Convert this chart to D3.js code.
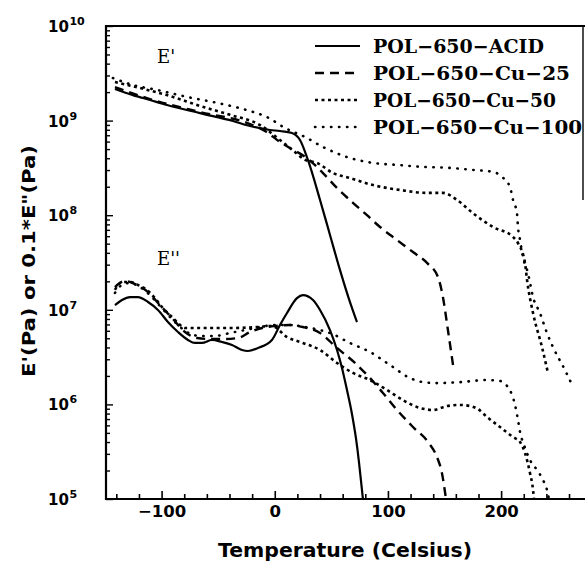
<!DOCTYPE html>
<html><head><meta charset="utf-8">
<script src="https://cdn.jsdelivr.net/npm/d3@7"></script>
<style>body{margin:0;background:#fff;} svg{display:block;}</style>
</head><body>
<svg id="chart" width="585" height="563"></svg>
<script>
// ---------- data (temperature in °C, modulus in Pa) ----------
const seriesNames = ["POL−650−ACID", "POL−650−Cu−25", "POL−650−Cu−50", "POL−650−Cu−100"];

// storage modulus E'
const acidStorage = [[-141.2,2.16e9],[-125.3,1.86e9],[-110.3,1.65e9],[-95.2,1.46e9],[-66.1,1.20e9],[-36.9,9.9e8],[-21.9,8.77e8],[-4.2,7.96e8],[4.6,7.77e8],[15.2,7.40e8],[22.3,6.24e8],[29.3,3.84e8],[40.0,1.45e8],[48.8,6.18e7],[57.6,2.64e7],[66.4,1.21e7],[72.6,7.43e6]];
const cu25Storage = [[-141.2,2.26e9],[-110.3,1.69e9],[-66.1,1.23e9],[-21.9,9.2e8],[-8.7,7.77e8],[4.6,5.94e8],[13.4,5.13e8],[28.2,4.03e8],[42.6,2.79e8],[55.0,1.94e8],[69.1,1.35e8],[81.5,1.0e8],[93.0,7.5e7],[108.0,5.47e7],[122.1,4.08e7],[134.5,3.13e7],[144.2,2.22e7],[148.6,1.36e7],[153.0,6.11e6],[157.5,2.61e6]];
const cu50Storage = [[-141.2,2.56e9],[-119.1,2.21e9],[-95.2,1.86e9],[-66.1,1.43e9],[-39.6,1.15e9],[-13.1,8.98e8],[4.6,6.24e8],[17.8,4.66e8],[26.7,3.84e8],[37.3,3.57e8],[51.4,2.79e8],[66.4,2.47e8],[86.8,2.08e8],[110.6,1.85e8],[134.5,1.72e8],[148.6,1.72e8],[161.0,1.45e8],[175.1,1.05e8],[192.8,7.5e7],[210.5,5.89e7],[214.9,5.08e7],[221.1,3.13e7],[222.9,2.07e7],[228.2,9.25e6],[236.1,4.04e6],[241.4,2.15e6]];
const cu100Storage = [[-143.0,2.82e9],[-125.3,2.38e9],[-104.1,2.11e9],[-77.6,1.78e9],[-51.1,1.54e9],[-24.6,1.29e9],[-6.9,1.09e9],[9.0,8.36e8],[26.7,6.71e8],[42.6,5.26e8],[63.8,4.12e8],[86.8,3.57e8],[108.0,3.40e8],[130.9,3.24e8],[154.8,3.16e8],[175.1,3.01e8],[192.8,2.87e8],[200.8,2.54e8],[207.8,1.99e8],[210.5,1.45e8],[214.0,1.05e8],[214.9,7.5e7],[216.7,5.47e7],[219.3,3.61e7],[223.7,2.45e7],[228.2,1.36e7],[234.3,9.25e6],[240.5,5.69e6],[245.8,4.04e6],[256.4,2.31e6],[263.5,1.53e6]];

// loss modulus, plotted as 0.1*E''
const acidLoss = [[-141.2,1.12e7],[-135.0,1.27e7],[-127.9,1.36e7],[-120.9,1.36e7],[-112.0,1.21e7],[-103.2,9.96e6],[-94.4,7.43e6],[-85.5,5.82e6],[-76.7,4.80e6],[-70.5,4.46e6],[-64.3,4.46e6],[-55.5,4.80e6],[-46.7,4.57e6],[-37.8,4.25e6],[-29.0,3.76e6],[-23.7,3.67e6],[-14.8,3.95e6],[-2.5,4.80e6],[4.6,6.90e6],[10.8,9.25e6],[19.6,1.33e7],[24.9,1.43e7],[33.8,1.27e7],[40.0,9.96e6],[48.8,6.11e6],[55.0,3.76e6],[59.4,2.43e6],[63.8,1.42e6],[68.2,7.93e5],[71.7,4.42e5],[74.4,2.46e5],[76.1,1.59e5],[77.9,1e5]];
const cu25Loss = [[-141.2,1.74e7],[-132.4,2.02e7],[-123.5,1.87e7],[-112.0,1.54e7],[-101.4,1.12e7],[-90.8,8.19e6],[-79.3,5.82e6],[-68.7,5.03e6],[-57.3,4.91e6],[-44.0,4.91e6],[-32.5,5.03e6],[-21.9,5.82e6],[-11.3,6.42e6],[0.2,6.74e6],[13.4,6.90e6],[24.9,6.58e6],[40.0,5.69e6],[55.0,3.95e6],[70.9,2.74e6],[84.1,1.90e6],[95.6,1.32e6],[108.0,8.73e5],[122.1,5.77e5],[135.4,4.01e5],[143.3,2.78e5],[147.7,1.88e5],[151.3,1e5]];
const cu50Loss = [[-141.2,1.62e7],[-138.5,1.83e7],[-134.1,1.97e7],[-127.9,1.97e7],[-120.9,1.83e7],[-112.9,1.62e7],[-105.9,1.33e7],[-98.8,1.04e7],[-90.8,8.39e6],[-85.5,7.25e6],[-79.3,6.42e6],[-61.7,6.42e6],[-37.8,6.42e6],[-14.8,6.58e6],[-2.5,6.74e6],[10.8,5.15e6],[24.9,4.46e6],[40.0,3.76e6],[55.0,2.74e6],[69.1,2.15e6],[84.1,1.81e6],[99.1,1.42e6],[113.3,1.11e6],[125.6,9.40e5],[139.8,8.73e5],[152.2,9.62e5],[163.6,9.86e5],[172.5,9.62e5],[179.5,8.94e5],[187.5,7.36e5],[199.0,5.77e5],[210.5,4.52e5],[216.7,4.01e5],[221.1,3.06e5],[225.5,1.88e5],[228.2,1.25e5],[229.0,1e5]];
const cu100Loss = [[-141.2,1.51e7],[-135.0,1.83e7],[-127.9,1.92e7],[-119.1,1.74e7],[-110.3,1.43e7],[-99.7,1.04e7],[-88.2,7.43e6],[-77.6,5.82e6],[-66.1,5.29e6],[-52.8,5.29e6],[-39.6,5.69e6],[-26.3,6.11e6],[-13.1,6.58e6],[0.2,6.90e6],[13.4,6.90e6],[26.7,6.58e6],[40.0,6.11e6],[48.8,5.69e6],[66.4,4.46e6],[84.1,3.58e6],[101.8,2.61e6],[119.5,1.90e6],[130.9,1.72e6],[143.3,1.68e6],[163.6,1.72e6],[187.5,1.81e6],[199.0,1.77e6],[205.2,1.57e6],[209.6,1.26e6],[212.3,9.86e5],[214.9,6.84e5],[216.7,5.11e5],[220.2,3.73e5],[225.5,2.58e5],[231.7,2.03e5],[237.0,1.59e5],[240.5,1.25e5],[242.3,1e5]];

// ticks and labels
const xMajorTicks = [-100, 0, 100, 200];
const xMinorTicks = [-140, -120, -80, -60, -40, -20, 20, 40, 60, 80, 120, 140, 160, 180, 220, 240, 260];
const yDecades = [1e5, 1e6, 1e7, 1e8, 1e9, 1e10];
const yExponents = ["5", "6", "7", "8", "9", "10"];
const xTitle = "Temperature (Celsius)";
const yTitle = "E'(Pa) or 0.1*E\"(Pa)";
const storageLabel = "E'";
const lossLabel = "E''";

// ---------- drawing ----------
const styles = [
  {dash: null, width: 2.2, cap: "butt"},
  {dash: "9,6", width: 2.4, cap: "butt"},
  {dash: "3,3.5", width: 2.6, cap: "butt"},
  {dash: "0.4,7.6", width: 2.6, cap: "round"}
];
const storage = [acidStorage, cu25Storage, cu50Storage, cu100Storage];
const loss = [acidLoss, cu25Loss, cu50Loss, cu100Loss];

const svg = d3.select("#chart");
const pLeft = 106, pRight = 585, pTop = 26, pBottom = 499;
const x = d3.scaleLinear().domain([-150, 275]).range([105, 586]);
const y = d3.scaleLog().domain([1e5, 1e10]).range([pBottom, pTop]);

svg.append("rect").attr("width", 585).attr("height", 563).attr("fill", "#fff");
svg.append("defs").append("clipPath").attr("id", "clip")
  .append("rect").attr("x", pLeft).attr("y", pTop).attr("width", pRight - pLeft).attr("height", pBottom - pTop);

const tickFont = "'DejaVu Sans', sans-serif";

// x axis ticks
const gxMinor = svg.append("g").attr("transform", `translate(0,${pBottom})`)
  .call(d3.axisBottom(x).tickValues(xMinorTicks).tickSize(-5).tickFormat(""));
const gxMajor = svg.append("g").attr("transform", `translate(0,${pBottom})`)
  .call(d3.axisBottom(x).tickValues(xMajorTicks).tickSize(-8).tickPadding(7));
[gxMinor, gxMajor].forEach(g => {
  g.select(".domain").remove();
  g.selectAll(".tick line").attr("stroke", "#000").attr("stroke-width", 1.6);
});
gxMajor.selectAll(".tick text")
  .attr("fill", "#000").attr("font-family", tickFont).attr("font-weight", "bold")
  .attr("font-size", 16.5).attr("y", 18).attr("dy", null);

// y axis ticks
const yMinorVals = [];
yDecades.slice(0, -1).forEach(d => { for (let k = 2; k <= 9; k++) yMinorVals.push(k * d); });
const gyMinor = svg.append("g").attr("transform", `translate(${pLeft},0)`)
  .call(d3.axisLeft(y).tickValues(yMinorVals).tickSize(-4).tickFormat(""));
const gyMajor = svg.append("g").attr("transform", `translate(${pLeft},0)`)
  .call(d3.axisLeft(y).tickValues(yDecades).tickSize(-7).tickFormat(""));
[gyMinor, gyMajor].forEach(g => {
  g.select(".domain").remove();
  g.selectAll(".tick line").attr("stroke", "#000").attr("stroke-width", 1.4);
});

// y tick labels 10^n
const ylab = svg.append("g").selectAll("text").data(yDecades).join("text")
  .attr("x", 48).attr("y", d => y(d) + 6)
  .attr("font-family", tickFont).attr("font-weight", "bold").attr("font-size", 15).attr("fill", "#000");
ylab.append("tspan").text("10");
ylab.append("tspan").attr("dy", -7).attr("dx", 0.5).attr("font-size", 11).text((d, i) => yExponents[i]);

// frame
svg.append("line").attr("x1", pLeft).attr("x2", pLeft).attr("y1", pTop - 1).attr("y2", pBottom + 1)
  .attr("stroke", "#000").attr("stroke-width", 2.2);
svg.append("line").attr("x1", pLeft - 1).attr("x2", pRight).attr("y1", pBottom).attr("y2", pBottom)
  .attr("stroke", "#000").attr("stroke-width", 2.2);
svg.append("line").attr("x1", pLeft).attr("x2", pRight).attr("y1", pTop).attr("y2", pTop)
  .attr("stroke", "#000").attr("stroke-width", 1.8);
svg.append("line").attr("x1", 583).attr("x2", 583).attr("y1", pTop).attr("y2", 200)
  .attr("stroke", "#000").attr("stroke-width", 1.4);

// curves
const line = d3.line().x(d => x(d[0])).y(d => y(d[1])).curve(d3.curveMonotoneX);
const plot = svg.append("g").attr("clip-path", "url(#clip)");
[storage, loss].forEach(group => {
  group.forEach((data, i) => {
    plot.append("path").datum(data)
      .attr("d", line)
      .attr("fill", "none").attr("stroke", "#000")
      .attr("stroke-width", styles[i].width)
      .attr("stroke-dasharray", styles[i].dash)
      .attr("stroke-linecap", styles[i].cap)
      .attr("stroke-linejoin", "round");
  });
});

// curve group labels
svg.append("text").attr("x", 157).attr("y", 63).text(storageLabel)
  .attr("font-family", "'DejaVu Serif', serif").attr("font-size", 18).attr("fill", "#000");
svg.append("text").attr("x", 157).attr("y", 265).text(lossLabel)
  .attr("font-family", "'DejaVu Serif', serif").attr("font-size", 18).attr("fill", "#000");

// legend
const legendRows = [46, 73, 100, 127];
const legendWidths = [171, 197, 183, 209];
const lg = svg.append("g");
seriesNames.forEach((name, i) => {
  lg.append("line").attr("x1", 315).attr("x2", 360).attr("y1", legendRows[i]).attr("y2", legendRows[i])
    .attr("stroke", "#000").attr("stroke-width", styles[i].width)
    .attr("stroke-dasharray", styles[i].dash).attr("stroke-linecap", styles[i].cap);
  lg.append("text").attr("x", 373).attr("y", legendRows[i] + 7).text(name)
    .attr("font-family", "'DejaVu Serif', serif").attr("font-weight", "bold")
    .attr("font-size", 19).attr("fill", "#000")
    .attr("textLength", legendWidths[i]).attr("lengthAdjust", "spacingAndGlyphs");
});

// axis titles
svg.append("text").attr("x", 345).attr("y", 557).attr("text-anchor", "middle").text(xTitle)
  .attr("font-family", tickFont).attr("font-weight", "bold").attr("font-size", 20).attr("fill", "#000")
  .attr("textLength", 254).attr("lengthAdjust", "spacingAndGlyphs");
svg.append("text").attr("transform", "translate(35,261) rotate(-90)").attr("text-anchor", "middle").text(yTitle)
  .attr("font-family", tickFont).attr("font-weight", "bold").attr("font-size", 18).attr("fill", "#000")
  .attr("textLength", 232).attr("lengthAdjust", "spacingAndGlyphs");
</script>
</body></html>
